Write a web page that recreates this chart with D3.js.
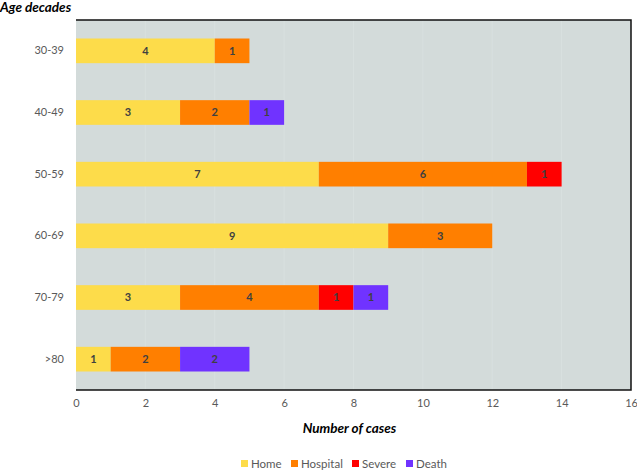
<!DOCTYPE html>
<html><head><meta charset="utf-8">
<script src="https://cdn.jsdelivr.net/npm/d3@7"></script>
<style>body{margin:0;background:#fff;} svg{display:block;}</style>
</head><body>
<svg id="chart" width="637" height="470"></svg>
<script>
const categories = ["30-39","40-49","50-59","60-69","70-79",">80"];
const seriesNames = ["Home","Hospital","Severe","Death"];
const home     = [4,3,7,9,3,1];
const hospital = [1,2,6,3,4,2];
const severe   = [0,0,1,0,1,0];
const death    = [0,1,0,0,1,2];
const xTicks = [0,2,4,6,8,10,12,14,16];
const colors = ["#fddc4a","#ff7f00","#ff0000","#7033ff"];

const rows = categories.map((c,i)=>({cat:c, Home:home[i], Hospital:hospital[i], Severe:severe[i], Death:death[i]}));
const stack = d3.stack().keys(seriesNames)(rows);

const svg = d3.select("#chart");
const font = "Lato, 'Liberation Sans', sans-serif";
const L=76, R=631, T=20, B=390;
const x = d3.scaleLinear().domain([0,16]).range([L,R]);
const y = d3.scaleBand().domain(categories).range([T,B]).paddingInner(0.6).paddingOuter(0.3);

svg.append("rect").attr("x",L).attr("y",T).attr("width",R-L).attr("height",B-T).attr("fill","#d3dbda");
// faint gridlines
svg.append("g").selectAll("line").data(xTicks.slice(1,-1)).join("line")
  .attr("x1",d=>x(d)).attr("x2",d=>x(d)).attr("y1",T).attr("y2",B)
  .attr("stroke","#d8e0df").attr("stroke-width",1);

const g = svg.append("g");
stack.forEach((s,si)=>{
  g.append("g").selectAll("rect").data(s).join("rect")
    .attr("x",d=>x(d[0])).attr("width",d=>x(d[1])-x(d[0]))
    .attr("y",d=>y(d.data.cat)).attr("height",y.bandwidth())
    .attr("fill",colors[si]);
  g.append("g").selectAll("text").data(s.filter(d=>d[1]-d[0]>0)).join("text")
    .attr("x",d=>(x(d[0])+x(d[1]))/2).attr("y",d=>y(d.data.cat)+y.bandwidth()/2)
    .attr("dy","0.35em").attr("text-anchor","middle")
    .attr("font-family",font).attr("font-size",11).attr("font-weight","bold")
    .attr("fill","#404040").text(d=>d[1]-d[0]);
});

// borders top, right, bottom
svg.append("path").attr("d",`M${L},${T}H${R}V${B}H${L}`).attr("fill","none").attr("stroke","#111").attr("stroke-width",1.5);

// y axis labels
const yAxis = d3.axisLeft(y).tickSize(0).tickPadding(12);
const ya = svg.append("g").attr("transform",`translate(${L},0)`).call(yAxis);
ya.select(".domain").remove();
ya.selectAll("text").attr("font-family",font).attr("font-size",11).attr("fill","#595959");

// x axis labels
const xAxis = d3.axisBottom(x).tickValues(xTicks).tickSize(0).tickPadding(9);
const xa = svg.append("g").attr("transform",`translate(0,${B})`).call(xAxis);
xa.select(".domain").remove();
xa.selectAll("text").attr("font-family",font).attr("font-size",11).attr("fill","#595959");

svg.append("text").attr("x",0).attr("y",12).attr("font-family",font).attr("font-size",13.5)
  .attr("font-weight","bold").attr("font-style","italic").attr("fill","#000").text("Age decades");
svg.append("text").attr("x",(L+R)/2 - 4).attr("y",433).attr("text-anchor","middle").attr("font-family",font).attr("font-size",13.5)
  .attr("font-weight","bold").attr("font-style","italic").attr("fill","#000").text("Number of cases");

// legend
const legX = [241,291,352,406];
const lg = svg.append("g");
seriesNames.forEach((n,i)=>{
  lg.append("rect").attr("x",legX[i]).attr("y",460).attr("width",7).attr("height",7).attr("fill",colors[i]);
  lg.append("text").attr("x",legX[i]+10).attr("y",467.5).attr("font-family",font).attr("font-size",11.5)
    .attr("fill","#595959").text(n);
});
</script>
</body></html>
